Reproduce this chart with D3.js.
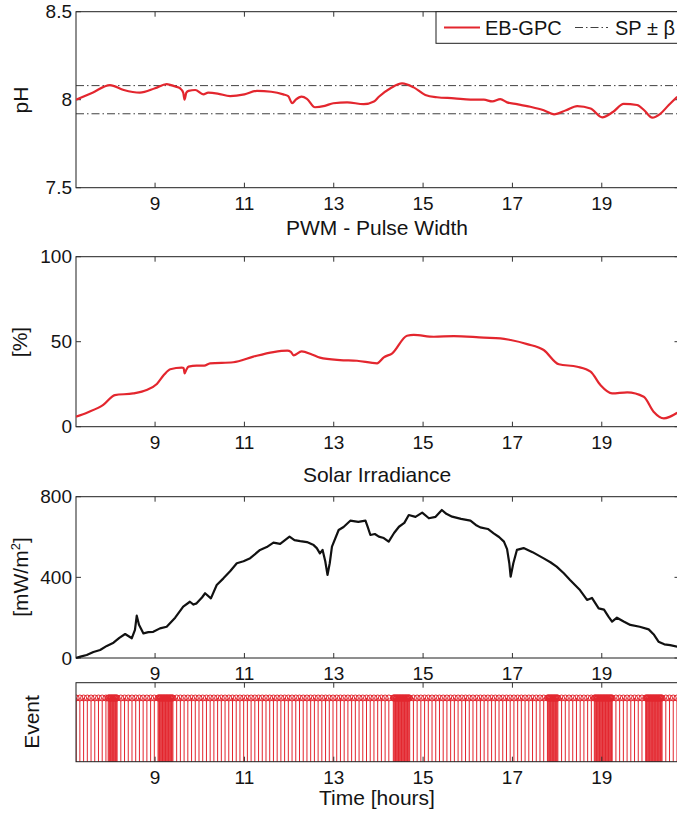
<!DOCTYPE html>
<html>
<head>
<meta charset="utf-8">
<script src="https://cdn.jsdelivr.net/npm/d3@7"></script>
<style>
    body { margin: 0; background: #fff; }
    svg text { font-family: "Liberation Sans", Arial, sans-serif; fill: #141414; }
</style>
</head>
<body>
<svg id="chart" width="677" height="816"></svg>
<script>
// ---- data ----
var hourTicks = [9, 11, 13, 15, 17, 19];

var phTicks = [7.5, 8, 8.5];
var phSetPoint = 8.0;
var phBeta = 0.08;
var phHours = [7.23, 7.60, 7.99, 8.30, 8.66, 9.00, 9.26, 9.45, 9.56, 9.63,
    9.66, 9.70, 9.75, 9.90, 10.08, 10.19, 10.40, 10.68, 11.00, 11.28,
    11.60, 11.87, 11.98, 12.07, 12.15, 12.28, 12.40, 12.58, 12.80, 12.99,
    13.30, 13.67, 13.90, 14.01, 14.27, 14.53, 14.79, 15.05, 15.31, 15.70,
    16.06, 16.36, 16.55, 16.73, 16.88, 17.10, 17.40, 17.70, 17.93, 18.20,
    18.45, 18.75, 19.01, 19.25, 19.49, 19.79, 19.95, 20.13, 20.31, 20.50, 20.69];
var phValues = [8.00, 8.04, 8.083, 8.055, 8.04, 8.065, 8.089, 8.075, 8.065, 8.04,
    8.00, 8.04, 8.05, 8.055, 8.03, 8.04, 8.035, 8.02, 8.03, 8.05,
    8.045, 8.03, 8.02, 7.98, 8.00, 8.017, 8.005, 7.957, 7.965, 7.98,
    7.985, 7.975, 7.99, 8.017, 8.065, 8.093, 8.07, 8.027, 8.014, 8.008,
    8.0, 8.0, 7.99, 8.003, 7.985, 7.975, 7.96, 7.94, 7.917, 7.94,
    7.964, 7.95, 7.90, 7.93, 7.976, 7.97, 7.94, 7.898, 7.92, 7.97, 8.017];

var pwmTicks = [0, 50, 100];
var pwmHours = [7.23, 7.50, 7.84, 8.10, 8.51, 8.81, 9.04, 9.20, 9.34, 9.60,
    9.64, 9.66, 9.70, 9.75, 9.93, 10.10, 10.23, 10.75, 11.20, 11.65,
    11.96, 12.04, 12.10, 12.28, 12.51, 12.69, 13.14, 13.52, 13.97, 14.12,
    14.31, 14.64, 14.79, 15.24, 15.69, 16.36, 16.73, 16.96, 17.33, 17.70,
    18.04, 18.45, 18.75, 18.97, 19.23, 19.57, 19.94, 20.16, 20.39, 20.69];
var pwmValues = [5.9, 8.5, 12.8, 18.6, 19.6, 21.6, 25.1, 30.5, 33.8, 34.7,
    34.5, 31.4, 33.5, 35.3, 35.9, 35.9, 37.3, 37.9, 41.2, 43.9,
    44.7, 44.0, 42.0, 44.3, 42.5, 40.6, 39.2, 38.8, 37.3, 40.8,
    43.2, 53.5, 54.0, 52.9, 53.3, 52.4, 52.0, 51.0, 48.6, 45.1,
    36.7, 35.3, 32.4, 24.5, 19.6, 20.2, 17.6, 8.8, 4.9, 8.2];

var irrTicks = [0, 400, 800];
var irrHours = [7.23, 7.35, 7.47, 7.62, 7.77, 7.92, 8.07, 8.20, 8.33, 8.48,
    8.55, 8.59, 8.64, 8.74, 8.85, 8.96, 9.11, 9.26, 9.45, 9.63,
    9.78, 9.86, 9.93, 10.05, 10.12, 10.25, 10.38, 10.53, 10.68, 10.83,
    10.98, 11.13, 11.35, 11.50, 11.65, 11.80, 12.01, 12.12, 12.25, 12.40,
    12.55, 12.62, 12.69, 12.75, 12.81, 12.86, 12.91, 12.96, 13.11, 13.22,
    13.37, 13.55, 13.71, 13.76, 13.82, 13.92, 14.01, 14.12, 14.23, 14.35,
    14.46, 14.58, 14.68, 14.83, 14.98, 15.13, 15.28, 15.42, 15.52, 15.65,
    15.85, 16.06, 16.18, 16.28, 16.45, 16.58, 16.70, 16.81, 16.88, 16.93,
    16.96, 17.02, 17.10, 17.25, 17.45, 17.70, 17.85, 17.99, 18.15, 18.29,
    18.50, 18.67, 18.78, 18.93, 19.05, 19.15, 19.23, 19.34, 19.50, 19.64,
    19.85, 20.05, 20.17, 20.27, 20.40, 20.53, 20.69];
var irrValues = [0, 8, 15, 30, 40, 60, 76, 100, 119, 98,
    140, 210, 165, 122, 128, 130, 147, 155, 200, 255,
    279, 265, 271, 300, 321, 296, 362, 395, 430, 470,
    480, 495, 536, 550, 572, 566, 602, 585, 580, 575,
    560, 545, 519, 536, 480, 412, 470, 552, 635, 650,
    681, 675, 681, 650, 610, 615, 602, 595, 577, 620,
    651, 670, 709, 700, 721, 693, 700, 734, 715, 701,
    690, 681, 660, 648, 640, 618, 600, 577, 540, 470,
    403, 470, 536, 545, 525, 494, 475, 453, 420, 387,
    340, 288, 298, 246, 240, 205, 180, 200, 180, 164,
    155, 142, 115, 81, 68, 64, 56];

// event instants, minutes after 07:00
var eventMinutes = [14, 19, 24, 29, 34, 39, 44, 49, 54,
    57, 58, 59, 60, 61, 62, 63, 64, 65, 66, 67, 68, 69,
    74, 79, 84, 89, 94, 99, 104, 109, 114, 119,
    124, 125, 126, 127, 128, 129, 130, 131, 132, 133, 134, 135, 136, 137,
    138, 139, 140, 141, 142, 143, 144,
    149, 154, 159, 164, 169, 174, 179, 184, 189, 194, 199, 204, 209, 214, 219,
    224, 229, 234, 239, 244, 249, 254, 259, 264, 269, 274, 279, 284, 289, 294,
    299, 304, 309, 314, 319, 324, 329, 334, 339, 344, 349, 354, 359, 364, 369,
    374, 379, 384, 389, 394, 399, 404, 409, 414, 419, 424, 429, 434,
    440, 441, 442, 443, 444, 445, 446, 447, 448, 449, 450, 451, 452, 453,
    454, 455, 456, 457, 458, 459, 460, 461, 462,
    467, 472, 477, 482, 487, 492, 497, 502, 507, 512, 517, 522, 527, 532, 537,
    542, 547, 552, 557, 562, 567, 572, 577, 582, 587, 592, 597, 602, 607, 612,
    617, 622, 627, 632, 637, 642,
    647, 648, 649, 650, 651, 652, 653, 654, 655, 656, 657, 658, 659, 660, 661,
    666, 671, 676, 681, 686, 691, 696, 701, 706,
    710, 711, 712, 713, 714, 715, 716, 717, 718, 719, 720, 721, 722, 723,
    724, 725, 726, 727, 728, 729, 730, 731, 732, 733, 734,
    739, 744, 749, 754, 759, 764, 769, 774,
    779, 780, 781, 782, 783, 784, 785, 786, 787, 788, 789, 790, 791, 792,
    793, 794, 795, 796, 797, 798, 799, 800, 801,
    806, 811, 816, 821, 826];

// ---- drawing ----
var RED = "#e3262e";
var svg = d3.select("#chart");

var x = d3.scaleLinear()
    .domain([7.23, 20.74])
    .range([76, 679.5]);

svg.append("clipPath").attr("id", "plotclip")
    .append("rect").attr("x", 76).attr("y", 0).attr("width", 601).attr("height", 816);

function zip(hs, vs) {
    var out = [];
    for (var i = 0; i < hs.length; i++) out.push({ h: hs[i], v: vs[i] });
    return out;
}

// MATLAB-like boxed axes, ticks pointing inwards
function frame(top, bottom, y, yTicks) {
    var g = svg.append("g");
    var left = x.range()[0], right = x.range()[1];

    g.append("rect")
        .attr("x", left).attr("y", top)
        .attr("width", right - left).attr("height", bottom - top)
        .attr("fill", "none").attr("stroke", "#1f1f1f").attr("stroke-width", 1);

    hourTicks.forEach(function (t) {
        g.append("line").attr("x1", x(t)).attr("x2", x(t))
            .attr("y1", bottom).attr("y2", bottom - 5)
            .attr("stroke", "#333");
        g.append("line").attr("x1", x(t)).attr("x2", x(t))
            .attr("y1", top).attr("y2", top + 5)
            .attr("stroke", "#333");
        g.append("text")
            .attr("x", x(t)).attr("y", bottom + 22)
            .attr("text-anchor", "middle")
            .style("font-size", "19px")
            .text(t);
    });

    if (y) {
        yTicks.forEach(function (t) {
            g.append("line").attr("x1", left).attr("x2", left + 5)
                .attr("y1", y(t)).attr("y2", y(t)).attr("stroke", "#333");
            g.append("line").attr("x1", right).attr("x2", right - 5)
                .attr("y1", y(t)).attr("y2", y(t)).attr("stroke", "#333");
            g.append("text")
                .attr("x", 72).attr("y", y(t))
                .attr("dy", "0.35em")
                .attr("text-anchor", "end")
                .style("font-size", "19px")
                .text(t);
        });
    }
    return g;
}

function yLabel(txt, cx, cy) {
    return svg.append("text")
        .attr("transform", "translate(" + cx + "," + cy + ") rotate(-90)")
        .attr("text-anchor", "middle")
        .style("font-size", "21px")
        .text(txt);
}

function title(txt, yy) {
    svg.append("text")
        .attr("x", 377).attr("y", yy)
        .attr("text-anchor", "middle")
        .style("font-size", "21px")
        .text(txt);
}

// panel 1 : pH
var y1 = d3.scaleLinear().domain([7.5, 8.5]).range([187.7, 11.7]);
frame(11.7, 187.7, y1, phTicks);
yLabel("pH", 28, 100);
title("PWM - Pulse Width", 235);

[phSetPoint + phBeta, phSetPoint - phBeta].forEach(function (v) {
    svg.append("line")
        .attr("x1", x.range()[0]).attr("x2", 677)
        .attr("y1", y1(v)).attr("y2", y1(v))
        .attr("stroke", "#2a2a2a").attr("stroke-width", 0.9)
        .attr("stroke-dasharray", "8,3,1.5,3");
});

svg.append("path")
    .datum(zip(phHours, phValues))
    .attr("clip-path", "url(#plotclip)")
    .attr("d", d3.line()
        .x(function (d) { return x(d.h); })
        .y(function (d) { return y1(d.v); })
        .curve(d3.curveMonotoneX))
    .attr("fill", "none").attr("stroke", RED).attr("stroke-width", 2.2);

// legend
var lg = svg.append("g");
lg.append("rect").attr("x", 436).attr("y", 11.7).attr("width", 250).attr("height", 31.6)
    .attr("fill", "#fff").attr("stroke", "#1f1f1f");
lg.append("line").attr("x1", 444).attr("x2", 480).attr("y1", 27.5).attr("y2", 27.5)
    .attr("stroke", RED).attr("stroke-width", 2.2);
lg.append("text").attr("x", 485).attr("y", 34.5).style("font-size", "20px").text("EB-GPC");
lg.append("line").attr("x1", 575).attr("x2", 608).attr("y1", 27.5).attr("y2", 27.5)
    .attr("stroke", "#2a2a2a").attr("stroke-width", 0.9)
    .attr("stroke-dasharray", "8,3,1.5,3");
lg.append("text").attr("x", 615).attr("y", 34.5).style("font-size", "20px").text("SP \u00b1 \u03b2");

// panel 2 : PWM
var y2 = d3.scaleLinear().domain([0, 100]).range([426.7, 256.7]);
frame(256.7, 426.7, y2, pwmTicks);
yLabel("[%]", 27, 342);
title("Solar Irradiance", 482);

svg.append("path")
    .datum(zip(pwmHours, pwmValues))
    .attr("clip-path", "url(#plotclip)")
    .attr("d", d3.line()
        .x(function (d) { return x(d.h); })
        .y(function (d) { return y2(d.v); })
        .curve(d3.curveMonotoneX))
    .attr("fill", "none").attr("stroke", RED).attr("stroke-width", 2.2);

// panel 3 : irradiance
var y3 = d3.scaleLinear().domain([0, 800]).range([658, 496.7]);
frame(496.7, 658, y3, irrTicks);
var irrLab = yLabel("", 28, 577);
irrLab.append("tspan").text("[mW/m");
irrLab.append("tspan").attr("dy", -8).style("font-size", "13px").text("2");
irrLab.append("tspan").attr("dy", 8).text("]");

svg.append("path")
    .datum(zip(irrHours, irrValues))
    .attr("clip-path", "url(#plotclip)")
    .attr("d", d3.line()
        .x(function (d) { return x(d.h); })
        .y(function (d) { return y3(d.v); }))
    .attr("fill", "none").attr("stroke", "#111").attr("stroke-width", 2.2)
    .attr("stroke-linejoin", "round");

// panel 4 : events (stem plot)
var y4 = d3.scaleLinear().domain([0, 1.24]).range([761.7, 682.7]);
var events = eventMinutes.map(function (m) { return 7 + m / 60; });

var ev = svg.append("g").attr("clip-path", "url(#plotclip)");
ev.selectAll("line")
    .data(events)
    .enter()
    .append("line")
    .attr("x1", function (d) { return x(d); })
    .attr("x2", function (d) { return x(d); })
    .attr("y1", y4(0))
    .attr("y2", y4(1))
    .attr("stroke", RED).attr("stroke-width", 1);
ev.selectAll("circle")
    .data(events)
    .enter()
    .append("circle")
    .attr("cx", function (d) { return x(d); })
    .attr("cy", y4(1))
    .attr("r", 3)
    .attr("fill", "none")
    .attr("stroke", RED).attr("stroke-width", 1);

frame(682.7, 761.7, null, []);
yLabel("Event", 39, 722);
title("Time [hours]", 805);
</script>
</body>
</html>
